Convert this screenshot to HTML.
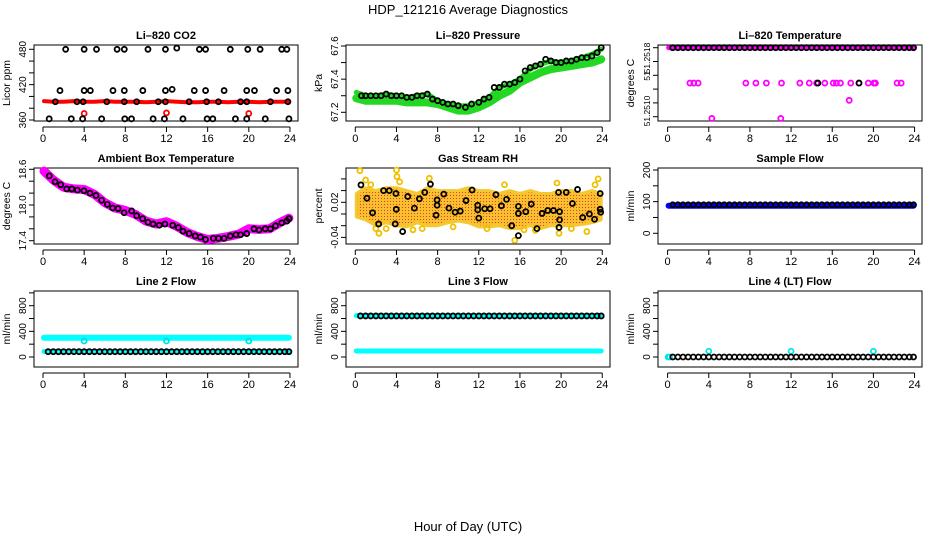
<!DOCTYPE html>
<html><head><meta charset="utf-8">
<style>
html,body{margin:0;padding:0;background:#fff;}
svg{display:block;font-family:"Liberation Sans",sans-serif;}
</style></head>
<body>
<svg id="chart" width="936" height="540" viewBox="0 0 936 540" xmlns="http://www.w3.org/2000/svg">
<defs>
<pattern id="rhdots" width="3" height="3" patternUnits="userSpaceOnUse">
<rect width="3" height="3" fill="#f8c030"/>
<rect width="1" height="1" fill="#e04010"/>
</pattern>
</defs>
<rect x="0" y="0" width="936" height="540" fill="#fff"/>
<text x="468" y="14" font-size="13" text-anchor="middle">HDP_121216  Average Diagnostics</text>
<text x="468" y="531" font-size="13" text-anchor="middle">Hour of Day (UTC)</text>
</svg>
<script>
// ---- data ----
const bandHours = [0.1,1,2,3,4,5,6,7,8,9,10,11,12,13,14,15,16,17,18,19,20,21,22,23,23.9];
const flowTimes = [0.5,1,1.5,2,2.5,3,3.5,4,4.5,5,5.5,6,6.5,7,7.5,8,8.5,9,9.5,10,10.5,11,11.5,12,12.5,13,13.5,14,14.5,15,15.5,16,16.5,17,17.5,18,18.5,19,19.5,20,20.5,21,21.5,22,22.5,23,23.5,23.9];
const xTicks = [0,4,8,12,16,20,24];

// CO2
const co2Band = [392,391,391,392,391,391,392,391,391,391,390,391,392,391,390,390,391,391,390,391,391,390,391,391,391];
const co2RedT = [4.0,12.0,20.0];
const co2RedV = [371,372,371];
const co2BlackT = [2.2,4.0,5.2,7.2,7.9,10.2,11.9,13.0,15.2,15.8,18.2,19.9,21.1,23.2,23.7,
  1.65,4.0,4.6,6.8,7.9,9.7,11.9,12.55,14.7,15.8,17.6,19.8,20.55,22.7,23.8,
  1.2,3.3,3.9,6.2,7.9,9.1,11.2,11.9,14.2,15.9,17.05,19.2,19.8,22.1,23.8,
  0.6,2.75,3.85,5.7,7.95,8.6,10.7,11.8,13.6,15.95,16.5,18.7,19.8,21.6,23.9];
const co2BlackV = [480,480,480,480,480,480,480,482,480,480,480,480,480,480,480,
  410,410,410,410,410,410,410,412,410,410,410,410,410,410,410,
  391,391,391,391,391,391,391,391,391,391,391,391,391,391,391,
  362,362,362,362,362,362,362,362,362,362,362,362,362,362,362];

// Pressure
const presBand = [67.285,67.27,67.27,67.27,67.27,67.26,67.26,67.26,67.25,67.23,67.21,67.21,67.23,67.26,67.30,67.33,67.38,67.41,67.44,67.46,67.47,67.48,67.49,67.50,67.52];
const presUpper = [67.32,67.30,67.30,67.31,67.30,67.29,67.30,67.31,67.27,67.25,67.24,67.24,67.26,67.29,67.35,67.37,67.40,67.46,67.49,67.51,67.50,67.51,67.53,67.55,67.58];
const presBlackT = [0.6,1,1.5,2,2.5,3,3.5,4,4.5,5,5.5,6,6.5,7,7.5,8,8.5,9,9.5,10,10.7,11.3,12,12.5,13,13.5,14,14.5,15,15.5,16,16.5,17,17.5,18,18.5,19,19.5,20,20.5,21,21.5,22,22.5,23,23.5,23.9];
const presBlackV = [67.30,67.30,67.30,67.30,67.30,67.31,67.30,67.30,67.30,67.29,67.29,67.30,67.30,67.31,67.28,67.27,67.26,67.25,67.25,67.24,67.23,67.25,67.26,67.28,67.29,67.35,67.35,67.37,67.37,67.38,67.40,67.45,67.47,67.48,67.49,67.52,67.51,67.50,67.50,67.51,67.51,67.52,67.53,67.53,67.54,67.56,67.59];

// Li-820 temperature
const tempBand = [51.2518,51.2518,51.2518,51.2518,51.2518,51.2518,51.2518,51.2518,51.2518,51.2518,51.2518,51.2518,51.2518,51.2518,51.2518,51.2518,51.2518,51.2518,51.2518,51.2518,51.2518,51.2518,51.2518,51.2518,51.2518];
const tempBlackV = [51.2518,51.2518,51.2518,51.2518,51.2518,51.2518,51.2518,51.2518,51.2518,51.2518,51.2518,51.2518,51.2518,51.2518,51.2518,51.2518,51.2518,51.2518,51.2518,51.2518,51.2518,51.2518,51.2518,51.2518,51.2518,51.2518,51.2518,51.2518,51.2518,51.2518,51.2518,51.2518,51.2518,51.2518,51.2518,51.2518,51.2518,51.2518,51.2518,51.2518,51.2518,51.2518,51.2518,51.2518,51.2518,51.2518,51.2518,51.2518];
const tempMagT = [2.17,2.55,2.97,7.6,8.58,9.6,11.07,12.85,13.77,14.48,15.28,16.1,16.4,16.8,17.8,18.6,19.5,20.05,20.2,22.3,22.7,17.65,4.3,11.0];
const tempMagV = [51.25139,51.25139,51.25139,51.25139,51.25139,51.25139,51.25139,51.25139,51.25139,51.25139,51.25139,51.25139,51.25139,51.25139,51.25139,51.25139,51.25139,51.25139,51.25139,51.25139,51.25139,51.25119,51.25098,51.25098];
const tempMidBlackT = [14.6,18.6];
const tempMidBlackV = [51.25139,51.25139];

// Ambient box temperature
const ambBand = [18.57,18.42,18.30,18.27,18.26,18.18,18.04,17.95,17.91,17.84,17.73,17.68,17.72,17.64,17.54,17.47,17.42,17.44,17.47,17.51,17.60,17.59,17.60,17.70,17.78];
const ambBlackT = [0.61,1.17,1.72,2.3,2.8,3.34,3.98,4.57,5.15,5.7,6.25,6.77,7.3,7.88,8.62,9.1,9.68,10.2,10.7,11.3,11.85,12.6,13.15,13.6,14.2,14.8,15.3,15.8,16.55,17.05,17.6,18.2,18.75,19.2,19.8,20.5,21.0,21.6,22.1,22.6,23.2,23.7,23.9];
const ambBlackV = [18.49,18.39,18.34,18.27,18.27,18.25,18.24,18.20,18.16,18.08,18.01,17.95,17.94,17.87,17.90,17.82,17.77,17.71,17.68,17.66,17.68,17.66,17.62,17.56,17.52,17.48,17.46,17.42,17.44,17.44,17.44,17.48,17.50,17.50,17.52,17.60,17.58,17.60,17.60,17.65,17.70,17.73,17.77];

// Gas stream RH
const rhUpper = [0.035,0.045,0.04,0.045,0.045,0.04,0.035,0.045,0.04,0.04,0.04,0.045,0.04,0.04,0.035,0.04,0.035,0.04,0.035,0.035,0.04,0.04,0.035,0.04,0.035];
const rhLower = [-0.005,-0.01,-0.02,-0.015,-0.02,-0.022,-0.015,-0.02,-0.02,-0.015,-0.012,-0.015,-0.022,-0.022,-0.02,-0.025,-0.025,-0.02,-0.025,-0.02,-0.02,-0.02,-0.018,-0.015,-0.01];
const rhYellowT = [0.45,1.0,2.0,2.3,4.0,4.05,4.3,5.6,7.2,14.5,15.5,16.4,19.6,19.8,22.5,23.6,23.3,1.5,3.0,6.5,9.5,12.8,17.5,21.0];
const rhYellowV = [0.074,0.058,-0.025,-0.033,0.075,0.064,0.055,-0.027,0.061,0.05,-0.045,-0.027,0.053,-0.033,-0.03,0.06,0.05,0.05,-0.025,-0.025,-0.022,-0.025,-0.028,-0.025];
const rhBlackT = [0.55,1.13,1.68,2.27,2.75,3.3,3.88,3.95,3.98,4.6,5.1,5.74,6.23,6.75,7.3,7.85,7.95,7.95,8.6,9.1,9.7,10.2,10.76,11.35,11.9,11.9,12.0,12.57,13.1,13.67,14.2,14.7,15.2,15.85,15.85,15.85,16.57,17.1,17.65,18.15,18.7,19.25,19.75,19.85,19.85,19.8,20.5,21.1,21.6,22.1,22.75,23.25,23.8,23.8,23.85];
const rhBlackV = [0.0497,0.027,0.002,-0.017,0.04,0.04,-0.017,0.035,0.008,-0.03,0.03,0.01,0.026,0.037,0.051,-0.002,0.024,0.015,0.034,0.01,0.003,0.005,0.023,0.041,0.015,0.007,-0.007,0.009,0.009,0.033,0.014,0.025,-0.02,0.013,0.001,-0.037,0.004,0.017,-0.025,0.001,0.006,0.006,0.037,0.004,-0.01,-0.023,0.037,0.018,0.042,-0.006,0.0,-0.009,0.035,0.008,0.003];

// Flows
const sampleBand = [87,87,87,87,87,87,87,87,87,87,87,87,87,87,87,87,87,87,87,87,87,87,87,87,87];
const sampleBlackV = [90,90,90,90,90,90,90,90,90,90,90,90,90,90,90,90,90,90,90,90,90,90,90,90,90,90,90,90,90,90,90,90,90,90,90,90,90,90,90,90,90,90,90,90,90,90,90,90];
const line2Band = [300,300,300,300,300,300,300,300,300,300,300,300,300,300,300,300,300,300,300,300,300,300,300,300,300];
const line2LowBand = [85,85,85,85,85,85,85,85,85,85,85,85,85,85,85,85,85,85,85,85,85,85,85,85,85];
const line2CyanT = [4,12,20];
const line2CyanV = [250,250,250];
const line2BlackV = [83,83,83,83,83,83,83,83,83,83,83,83,83,83,83,83,83,83,83,83,83,83,83,83,83,83,83,83,83,83,83,83,83,83,83,83,83,83,83,83,83,83,83,83,83,83,83,83];
const line3TopBand = [645,645,645,645,645,645,645,645,645,645,645,645,645,645,645,645,645,645,645,645,645,645,645,645,645];
const line3LowBand = [94,94,94,94,94,94,94,94,94,94,94,94,94,94,94,94,94,94,94,94,94,94,94,94,94];
const line3BlackV = [640,640,640,640,640,640,640,640,640,640,640,640,640,640,640,640,640,640,640,640,640,640,640,640,640,640,640,640,640,640,640,640,640,640,640,640,640,640,640,640,640,640,640,640,640,640,640,640];
const line4CyanT = [0.05,0.2,4,12,20];
const line4CyanV = [0,0,90,90,90];
const line4BlackV = [0,0,0,0,0,0,0,0,0,0,0,0,0,0,0,0,0,0,0,0,0,0,0,0,0,0,0,0,0,0,0,0,0,0,0,0,0,0,0,0,0,0,0,0,0,0,0,0];

// ---- drawing ----
const svg = document.getElementById('chart');
const NS = 'http://www.w3.org/2000/svg';
function mk(parent, tag, attrs, name) {
  const el = document.createElementNS(NS, tag);
  for (const k in attrs) el.setAttribute(k, attrs[k]);
  
  
  parent.appendChild(el);
  return el;
}
function makePanel(col, row, vA, yA, vB, yB) {
  const left = 34 + col * 312;
  const top = 45 + row * 123;
  const bottom = top + 76;
  const x = t => 43 + col * 312.3 + t * 10.29;
  const y = v => yA + (v - vA) * (yB - yA) / (vB - vA);
  return {left, top, bottom, right: left + 264, x, y};
}
function frame(p, g, title, ytitle, ticks, labels, pname, lfs) {
  mk(g, 'rect', {x: p.left, y: p.top, width: 264, height: 76, fill: 'none', stroke: '#000', 'stroke-width': 1}, pname + '-frame');
  const t = mk(g, 'text', {x: p.left + 132, y: p.top - 6, 'font-size': 11, 'font-weight': 'bold', 'text-anchor': 'middle'}, pname + '-title');
  t.textContent = title;
  const yt = mk(g, 'text', {x: 0, y: 0, 'font-size': 10.5, 'text-anchor': 'middle', transform: 'translate(' + (p.left - 24) + ',' + ((p.top + p.bottom) / 2) + ') rotate(-90)'}, pname + '-y-axis-title');
  yt.textContent = ytitle;
  mk(g, 'line', {x1: p.x(0), x2: p.x(24), y1: p.bottom + 6, y2: p.bottom + 6, stroke: '#000'}, pname + '-x-axis');
  xTicks.forEach(v => {
    mk(g, 'line', {x1: p.x(v), x2: p.x(v), y1: p.bottom + 6, y2: p.bottom + 11, stroke: '#000'}, pname + '-x-tick');
    const l = mk(g, 'text', {x: p.x(v), y: p.bottom + 21, 'font-size': 11, 'text-anchor': 'middle'}, pname + '-x-tick-label');
    l.textContent = String(v);
  });
  ticks.forEach(v => {
    mk(g, 'line', {x1: p.left - 5, x2: p.left, y1: p.y(v), y2: p.y(v), stroke: '#000'}, pname + '-y-tick');
  });
  mk(g, 'line', {x1: p.left, x2: p.left, y1: p.y(ticks[0]), y2: p.y(ticks[ticks.length - 1]), stroke: '#000'}, pname + '-y-axis');
  labels.forEach(lb => {
    const yy = lb[1] !== undefined ? lb[1] : p.y(lb[0]);
    const tx = mk(g, 'text', {x: 0, y: 0, 'font-size': lfs || 10, 'text-anchor': 'middle', transform: 'translate(' + (p.left - 8) + ',' + yy + ') rotate(-90)'}, pname + '-y-tick-label');
    tx.textContent = lb[2] || String(lb[0]);
  });
}
function band(g, p, ts, vs, color, w, name) {
  const d = ts.map((t, i) => (i ? 'L' : 'M') + p.x(t).toFixed(1) + ' ' + p.y(vs[i]).toFixed(1)).join(' ');
  mk(g, 'path', {d: d, fill: 'none', stroke: color, 'stroke-width': w, 'stroke-linecap': 'round', 'stroke-linejoin': 'round'}, name);
}
function pts(g, p, ts, vs, color, name) {
  ts.forEach((t, i) => {
    mk(g, 'circle', {cx: p.x(t), cy: p.y(vs[i]), r: 2.5, fill: 'none', stroke: color, 'stroke-width': 1.8}, name);
  });
}
function group(name) { return mk(svg, 'g', {}, name); }

// Panel 1: CO2
let g = group('panel-li820-co2');
let p = makePanel(0, 0, 360, 120, 480, 49.3);
frame(p, g, 'Li\u2013820 CO2', 'Licor ppm', [360,380,400,420,440,460,480], [[360],[420],[480]], 'co2');
band(g, p, bandHours, co2Band, '#ff0000', 4, 'co2-red-band');
pts(g, p, co2RedT, co2RedV, '#ff0000', 'co2-red-point');
pts(g, p, co2BlackT, co2BlackV, '#000', 'co2-black-point');

// Panel 2: Pressure
g = group('panel-li820-pressure');
p = makePanel(1, 0, 67.2, 112.3, 67.6, 46);
frame(p, g, 'Li\u2013820 Pressure', 'kPa', [67.2,67.3,67.4,67.5,67.6], [[67.2],[67.4],[67.6]], 'pressure');
band(g, p, bandHours, presBand, '#22d822', 8, 'pressure-green-band');
band(g, p, bandHours, presUpper, '#22d822', 5, 'pressure-green-upper-band');
pts(g, p, presBlackT, presBlackV, '#000', 'pressure-black-point');

// Panel 3: Li-820 Temperature
g = group('panel-li820-temperature');
p = makePanel(2, 0, 51.2510, 116.7, 51.2518, 47.7);
frame(p, g, 'Li\u2013820 Temperature', 'degrees C', [51.2518,51.25164,51.25148,51.25132,51.25116,51.2510], [[51.2518,58,'51.2518'],[51,76,'51'],[51.251,111,'51.2510']], 'temperature', 8.5);
band(g, p, bandHours, tempBand, '#ff00ff', 5, 'temperature-magenta-band');
pts(g, p, flowTimes, tempBlackV, '#000', 'temperature-black-point');
pts(g, p, tempMagT, tempMagV, '#ff00ff', 'temperature-magenta-point');
pts(g, p, tempMidBlackT, tempMidBlackV, '#000', 'temperature-mid-black-point');

// Panel 4: Ambient
g = group('panel-ambient-box-temperature');
p = makePanel(0, 1, 17.4, 240.7, 18.6, 169.3);
frame(p, g, 'Ambient Box Temperature', 'degrees C', [17.4,17.6,17.8,18.0,18.2,18.4,18.6], [[17.4],[18.0,undefined,'18.0'],[18.6]], 'ambient');
band(g, p, bandHours, ambBand, '#ff00ff', 9, 'ambient-magenta-band');
pts(g, p, ambBlackT, ambBlackV, '#000', 'ambient-black-point');

// Panel 5: RH
g = group('panel-gas-stream-rh');
p = makePanel(1, 1, 0, 214, 0.02, 202.3);
frame(p, g, 'Gas Stream RH', 'percent', [-0.04,-0.02,0,0.02,0.04,0.06], [[-0.04],[0.02]], 'rh');
{
  const up = bandHours.map((t, i) => p.x(t).toFixed(1) + ' ' + p.y(rhUpper[i]).toFixed(1));
  const lo = bandHours.map((t, i) => p.x(t).toFixed(1) + ' ' + p.y(rhLower[i]).toFixed(1)).reverse();
  mk(g, 'path', {d: 'M' + up.join(' L') + ' L' + lo.join(' L') + 'Z', fill: 'url(#rhdots)', stroke: '#f4c830', 'stroke-width': 3, 'stroke-linejoin': 'round'}, 'rh-orange-cloud');
}
pts(g, p, rhYellowT, rhYellowV, '#f0c000', 'rh-yellow-point');
pts(g, p, rhBlackT, rhBlackV, '#000', 'rh-black-point');

// Panel 6: Sample flow
g = group('panel-sample-flow');
p = makePanel(2, 1, 0, 233.3, 200, 170);
frame(p, g, 'Sample Flow', 'ml/min', [0,50,100,150,200], [[0],[100],[200]], 'sample-flow');
band(g, p, bandHours, sampleBand, '#0000ff', 6, 'sample-flow-blue-band');
pts(g, p, flowTimes, sampleBlackV, '#000', 'sample-flow-black-point');

// Panel 7: Line 2
g = group('panel-line2-flow');
p = makePanel(0, 2, 0, 357, 800, 305.7);
frame(p, g, 'Line 2 Flow', 'ml/min', [0,200,400,600,800,1000], [[0],[400],[800]], 'line2');
band(g, p, bandHours, line2Band, '#00ffff', 6, 'line2-cyan-band');
band(g, p, bandHours, line2LowBand, '#00ffff', 5, 'line2-cyan-low-band');
pts(g, p, line2CyanT, line2CyanV, '#00e0e0', 'line2-cyan-point');
pts(g, p, flowTimes, line2BlackV, '#000', 'line2-black-point');

// Panel 8: Line 3
g = group('panel-line3-flow');
p = makePanel(1, 2, 0, 357, 800, 305.7);
frame(p, g, 'Line 3 Flow', 'ml/min', [0,200,400,600,800,1000], [[0],[400],[800]], 'line3');
band(g, p, bandHours, line3TopBand, '#00ffff', 5, 'line3-cyan-top-band');
band(g, p, bandHours, line3LowBand, '#00ffff', 5, 'line3-cyan-low-band');
pts(g, p, flowTimes, line3BlackV, '#000', 'line3-black-point');

// Panel 9: Line 4
g = group('panel-line4-flow');
p = makePanel(2, 2, 0, 357, 800, 305.7);
frame(p, g, 'Line 4 (LT) Flow', 'ml/min', [0,200,400,600,800,1000], [[0],[400],[800]], 'line4');
pts(g, p, line4CyanT, line4CyanV, '#00e8e8', 'line4-cyan-point');
pts(g, p, flowTimes, line4BlackV, '#000', 'line4-black-point');
</script>
</body></html>
